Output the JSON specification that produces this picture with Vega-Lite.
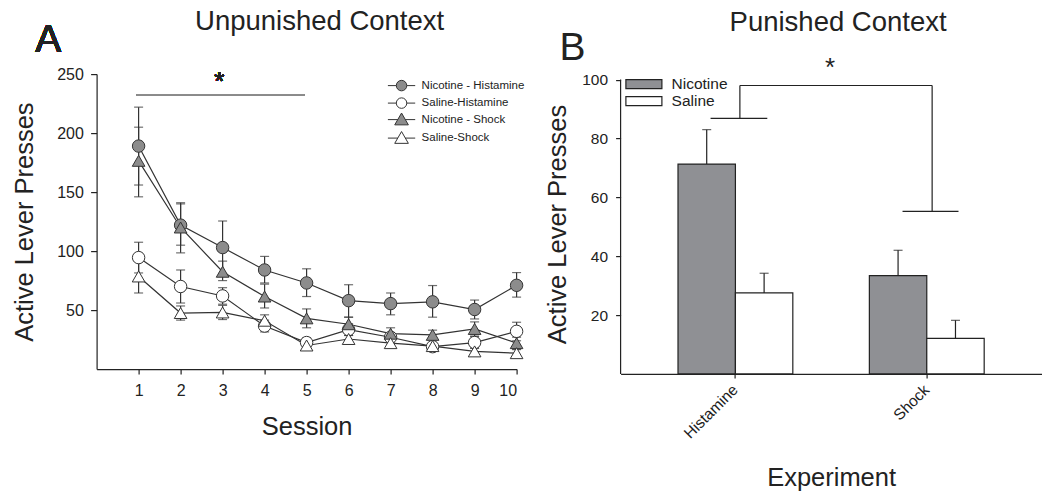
{
  "$schema": "https://vega.github.io/schema/vega-lite/v6.json",
  "background": "white",
  "padding": {"left": 11.6, "top": 8.1, "right": 0, "bottom": 0},
  "spacing": 104,
  "bounds": "flush",
  "resolve": {"scale": {"fill": "independent"}, "legend": {"fill": "independent"}},
  "config": {
    "font": "Liberation Sans",
    "view": {"stroke": null},
    "axis": {
      "grid": false,
      "domainColor": "#222222",
      "tickColor": "#222222",
      "labelColor": "#222222",
      "titleColor": "#222222",
      "labelFont": "Liberation Sans",
      "titleFont": "Liberation Sans",
      "titleFontWeight": "normal",
      "labelFontSize": 15.5,
      "titleFontSize": 25.5,
      "domainWidth": 1.2,
      "tickWidth": 1.2
    },
    "title": {"font": "Liberation Sans", "fontWeight": "normal", "fontSize": 27.5, "color": "#222222"},
    "legend": {"labelFont": "Liberation Sans", "labelColor": "#222222", "padding": 0}
  },
  "datasets": {
    "sessions": [
      {"session": 1, "group": "Nicotine - Histamine", "mean": 189, "lo": 156, "hi": 222},
      {"session": 2, "group": "Nicotine - Histamine", "mean": 122, "lo": 105, "hi": 140},
      {"session": 3, "group": "Nicotine - Histamine", "mean": 103, "lo": 81, "hi": 125.5},
      {"session": 4, "group": "Nicotine - Histamine", "mean": 84, "lo": 73, "hi": 95.5},
      {"session": 5, "group": "Nicotine - Histamine", "mean": 73, "lo": 61.5, "hi": 85},
      {"session": 6, "group": "Nicotine - Histamine", "mean": 58, "lo": 44, "hi": 71.5},
      {"session": 7, "group": "Nicotine - Histamine", "mean": 55.5, "lo": 46, "hi": 64.5},
      {"session": 8, "group": "Nicotine - Histamine", "mean": 57, "lo": 44, "hi": 70.8},
      {"session": 9, "group": "Nicotine - Histamine", "mean": 50.5, "lo": 42.5, "hi": 58.5},
      {"session": 10, "group": "Nicotine - Histamine", "mean": 71, "lo": 61, "hi": 81.8},
      {"session": 1, "group": "Saline-Histamine", "mean": 94.5, "lo": 81.5, "hi": 107.5},
      {"session": 2, "group": "Saline-Histamine", "mean": 70, "lo": 56, "hi": 84},
      {"session": 3, "group": "Saline-Histamine", "mean": 62, "lo": 55, "hi": 69},
      {"session": 4, "group": "Saline-Histamine", "mean": 36.5, "lo": 31.5, "hi": 41.5},
      {"session": 5, "group": "Saline-Histamine", "mean": 22.5, "lo": 18.5, "hi": 26.5},
      {"session": 6, "group": "Saline-Histamine", "mean": 33.5, "lo": 28.5, "hi": 38.5},
      {"session": 7, "group": "Saline-Histamine", "mean": 27, "lo": 23, "hi": 31},
      {"session": 8, "group": "Saline-Histamine", "mean": 19, "lo": 16, "hi": 22},
      {"session": 9, "group": "Saline-Histamine", "mean": 22.5, "lo": 17.5, "hi": 27.5},
      {"session": 10, "group": "Saline-Histamine", "mean": 32, "lo": 24, "hi": 39.7},
      {"session": 1, "group": "Nicotine - Shock", "mean": 176.5, "lo": 146, "hi": 205},
      {"session": 2, "group": "Nicotine - Shock", "mean": 120, "lo": 98.5, "hi": 141},
      {"session": 3, "group": "Nicotine - Shock", "mean": 82.5, "lo": 75, "hi": 91.5},
      {"session": 4, "group": "Nicotine - Shock", "mean": 61.5, "lo": 51.8, "hi": 72},
      {"session": 5, "group": "Nicotine - Shock", "mean": 43, "lo": 35, "hi": 51},
      {"session": 6, "group": "Nicotine - Shock", "mean": 38, "lo": 32, "hi": 44},
      {"session": 7, "group": "Nicotine - Shock", "mean": 30, "lo": 25, "hi": 35},
      {"session": 8, "group": "Nicotine - Shock", "mean": 29, "lo": 25, "hi": 33},
      {"session": 9, "group": "Nicotine - Shock", "mean": 34, "lo": 28, "hi": 40},
      {"session": 10, "group": "Nicotine - Shock", "mean": 22, "lo": 17, "hi": 27},
      {"session": 1, "group": "Saline-Shock", "mean": 78.5, "lo": 64.5, "hi": 92.5},
      {"session": 2, "group": "Saline-Shock", "mean": 47.5, "lo": 41.5, "hi": 53.5},
      {"session": 3, "group": "Saline-Shock", "mean": 48, "lo": 42, "hi": 54},
      {"session": 4, "group": "Saline-Shock", "mean": 41, "lo": 36, "hi": 46},
      {"session": 5, "group": "Saline-Shock", "mean": 20, "lo": 16, "hi": 24},
      {"session": 6, "group": "Saline-Shock", "mean": 25.5, "lo": 22.5, "hi": 28.5},
      {"session": 7, "group": "Saline-Shock", "mean": 22, "lo": 19, "hi": 25},
      {"session": 8, "group": "Saline-Shock", "mean": 19.5, "lo": 16.5, "hi": 22.5},
      {"session": 9, "group": "Saline-Shock", "mean": 15, "lo": 12, "hi": 18},
      {"session": 10, "group": "Saline-Shock", "mean": 13.5, "lo": 10.5, "hi": 16.5}
    ],
    "bars": [
      {"experiment": "Histamine", "drug": "Nicotine", "mean": 71.3, "hi": 83},
      {"experiment": "Histamine", "drug": "Saline", "mean": 27.5, "hi": 34.2},
      {"experiment": "Shock", "drug": "Nicotine", "mean": 33.4, "hi": 42},
      {"experiment": "Shock", "drug": "Saline", "mean": 12.1, "hi": 18.2}
    ],
    "bracket": [
      {"x1": 0.869, "x2": 1.166, "y1": 86.85, "y2": 86.85},
      {"x1": 1.0225, "x2": 1.0225, "y1": 86.85, "y2": 98},
      {"x1": 1.0225, "x2": 2.029, "y1": 98, "y2": 98},
      {"x1": 2.029, "x2": 2.029, "y1": 98, "y2": 55.25},
      {"x1": 1.874, "x2": 2.167, "y1": 55.25, "y2": 55.25}
    ]
  },
  "hconcat": [
    {
      "width": 420,
      "height": 295,
      "title": {"text": "Unpunished Context", "dx": 13, "offset": -14.7},
      "data": {"name": "sessions"},
      "resolve": {"scale": {"fill": "independent"}, "legend": {"fill": "independent"}},
      "layer": [
        {
          "mark": {"type": "errorbar", "rule": {"color": "#333333", "strokeWidth": 1.2}, "ticks": {"color": "#333333", "size": 9, "thickness": 1.2}},
          "encoding": {
            "x": {"field": "session", "type": "quantitative", "scale": {"domain": [0, 10], "nice": false, "zero": false},
              "axis": {"values": [1, 2, 3, 4, 5, 6, 7, 8, 9, 10], "title": "Session", "labelFontSize": 16, "tickSize": 5, "labelPadding": 8.5, "titlePadding": 16, "labelAngle": 0}},
            "y": {"field": "lo", "type": "quantitative", "scale": {"domain": [0, 250], "nice": false},
              "axis": {"values": [50, 100, 150, 200, 250], "title": "Active Lever Presses", "labelFontSize": 16, "tickSize": 6, "labelPadding": 7.3, "titlePadding": 19.6}},
            "y2": {"field": "hi"}
          }
        },
        {
          "mark": {"type": "line", "color": "#333333", "strokeWidth": 1.2},
          "encoding": {
            "x": {"field": "session", "type": "quantitative"},
            "y": {"field": "mean", "type": "quantitative"},
            "detail": {"field": "group"}
          }
        },
        {
          "transform": [{"filter": "indexof(datum.group, 'Histamine') >= 0"}],
          "mark": {"type": "point", "shape": "circle", "filled": true, "size": 155, "stroke": "#333333", "strokeWidth": 1, "opacity": 1},
          "encoding": {
            "x": {"field": "session", "type": "quantitative"},
            "y": {"field": "mean", "type": "quantitative"},
            "fill": {"field": "group", "type": "nominal",
              "scale": {"domain": ["Nicotine - Histamine", "Saline-Histamine"], "range": ["#8c8c8c", "#ffffff"]},
              "legend": {"title": null, "orient": "none", "legendX": 299.2, "legendY": 5.75, "labelFontSize": 11.5, "labelOffset": 14.3, "rowPadding": 2.5, "symbolType": "M-5.2,0L-2,0M2,0L5.2,0M-2,0A2,2,0,1,1,2,0A2,2,0,1,1,-2,0Z", "symbolSize": 27.56, "symbolStrokeColor": "#333333", "symbolStrokeWidth": 1, "symbolOpacity": 1}}
          }
        },
        {
          "transform": [{"filter": "indexof(datum.group, 'Shock') >= 0"}],
          "mark": {"type": "point", "shape": "triangle-up", "filled": true, "size": 160, "stroke": "#333333", "strokeWidth": 1, "opacity": 1},
          "encoding": {
            "x": {"field": "session", "type": "quantitative"},
            "y": {"field": "mean", "type": "quantitative"},
            "fill": {"field": "group", "type": "nominal",
              "scale": {"domain": ["Nicotine - Shock", "Saline-Shock"], "range": ["#8c8c8c", "#ffffff"]},
              "legend": {"title": null, "orient": "none", "legendX": 299.2, "legendY": 39.75, "labelFontSize": 11.5, "labelOffset": 14.3, "rowPadding": 2.5, "symbolType": "M-5.2,0L-1.4,0M1.4,0L5.2,0M0,-2.5L2.6,2L-2.6,2Z", "symbolSize": 27.56, "symbolStrokeColor": "#333333", "symbolStrokeWidth": 1, "symbolOpacity": 1}}
          }
        },
        {
          "mark": {"type": "rule", "color": "#8a8a8a", "strokeWidth": 1.2},
          "encoding": {
            "x": {"datum": 0.95, "type": "quantitative"},
            "x2": {"datum": 4.95},
            "y": {"datum": 232, "type": "quantitative"}
          }
        },
        {
          "mark": {"type": "text", "text": "*", "fontSize": 26, "align": "center", "baseline": "middle", "color": "#222222"},
          "encoding": {
            "x": {"datum": 2.92, "type": "quantitative"},
            "y": {"datum": 243.4, "type": "quantitative"}
          }
        },
        {
          "mark": {"type": "text", "text": "A", "fontSize": 39, "align": "center", "baseline": "middle", "color": "#222222"},
          "encoding": {
            "x": {"datum": -1.15, "type": "quantitative"},
            "y": {"datum": 278.7, "type": "quantitative"}
          }
        }
      ]
    },
    {
      "width": 421,
      "height": 299.8,
      "title": {"text": "Punished Context", "dx": 7, "offset": -7.2},
      "resolve": {"scale": {"x": "independent"}},
      "layer": [
        {
          "data": {"name": "bars"},
          "layer": [
            {
              "mark": {"type": "bar", "stroke": "#222222", "strokeWidth": 1.2},
              "encoding": {
                "x": {"field": "experiment", "type": "nominal", "sort": ["Histamine", "Shock"], "scale": {"paddingInner": 0.4, "paddingOuter": 0.3},
                  "axis": {"title": "Experiment", "labelAngle": -45, "labelAlign": "right", "labelBaseline": "middle", "labelFontSize": 15.5, "tickSize": 4, "labelPadding": 9, "titlePadding": 24}},
                "xOffset": {"field": "drug", "type": "nominal", "sort": ["Nicotine", "Saline"], "scale": {"paddingInner": 0, "paddingOuter": 0}},
                "y": {"field": "mean", "type": "quantitative", "scale": {"domain": [0, 101.87], "nice": false},
                  "axis": {"values": [20, 40, 60, 80, 100], "domain": false, "title": "Active Lever Presses", "labelFontSize": 15.5, "tickSize": 5, "labelPadding": 8, "titlePadding": 11.3}},
                "fill": {"field": "drug", "type": "nominal", "scale": {"domain": ["Nicotine", "Saline"], "range": ["#8f9094", "#ffffff"]},
                  "legend": {"title": null, "orient": "none", "legendX": 15.55, "legendY": 2.25, "labelFontSize": 15.5, "labelOffset": 19.95, "rowPadding": 0, "symbolType": "M-4,-1L4,-1L4,1L-4,1Z", "symbolSize": 81, "symbolStrokeColor": "#222222", "symbolStrokeWidth": 1.2, "symbolOpacity": 1}}
              }
            },
            {
              "mark": {"type": "rule", "color": "#222222", "strokeWidth": 1.2},
              "encoding": {
                "x": {"field": "experiment", "type": "nominal", "sort": ["Histamine", "Shock"]},
                "xOffset": {"field": "drug", "type": "nominal", "sort": ["Nicotine", "Saline"]},
                "y": {"field": "mean", "type": "quantitative"},
                "y2": {"field": "hi"}
              }
            },
            {
              "mark": {"type": "tick", "color": "#222222", "size": 9, "thickness": 1.2, "orient": "horizontal"},
              "encoding": {
                "x": {"field": "experiment", "type": "nominal", "sort": ["Histamine", "Shock"]},
                "xOffset": {"field": "drug", "type": "nominal", "sort": ["Nicotine", "Saline"]},
                "y": {"field": "hi", "type": "quantitative"}
              }
            }
          ]
        },
        {
          "layer": [
            {
              "data": {"name": "bracket"},
              "mark": {"type": "rule", "color": "#222222", "strokeWidth": 1.2},
              "encoding": {
                "x": {"field": "x1", "type": "quantitative", "scale": {"domain": [0.398, 2.602], "nice": false, "zero": false}, "axis": null},
                "x2": {"field": "x2"},
                "y": {"field": "y1", "type": "quantitative"},
                "y2": {"field": "y2"}
              }
            },
            {
              "data": {"values": [{}]},
              "mark": {"type": "rule", "color": "#222222", "strokeWidth": 1.2},
              "encoding": {
                "x": {"datum": 0.398, "type": "quantitative", "axis": null},
                "y": {"datum": 0, "type": "quantitative"},
                "y2": {"datum": 100}
              }
            },
            {
              "data": {"values": [{}]},
              "mark": {"type": "text", "text": "*", "fontSize": 26, "align": "center", "baseline": "middle", "color": "#222222"},
              "encoding": {
                "x": {"datum": 1.494, "type": "quantitative", "axis": null},
                "y": {"datum": 104.1, "type": "quantitative"}
              }
            },
            {
              "data": {"values": [{}]},
              "mark": {"type": "text", "text": "B", "fontSize": 39, "align": "center", "baseline": "middle", "color": "#222222"},
              "encoding": {
                "x": {"datum": 0.146, "type": "quantitative", "axis": null},
                "y": {"datum": 110.8, "type": "quantitative"}
              }
            }
          ]
        }
      ]
    }
  ]
}
